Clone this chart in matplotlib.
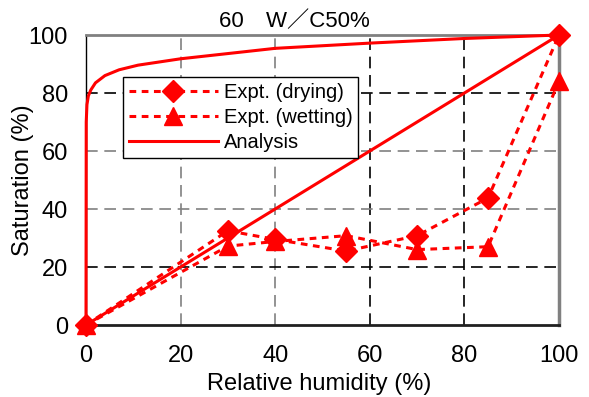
import matplotlib.pyplot as plt
import numpy as np
from matplotlib.lines import Line2D

plt.rcParams['font.family'] = ['Liberation Sans', 'Noto Sans CJK JP', 'DejaVu Sans']

red = "#FF0000"; grey = "#808080"

# experimental data (relative humidity %, saturation %)
rh_dry = [0, 30, 40, 55, 70, 85, 100]
sat_dry = [0, 32.5, 29.5, 25.5, 30.8, 43.8, 100]
rh_wet = [0, 30, 40, 55, 70, 85, 100]
sat_wet = [0, 27.2, 28.8, 30.8, 26.0, 27.0, 84]

# analysis curves
rh_ana1 = [0, 0.05, 0.2, 0.5, 1, 2, 4, 7, 11, 20, 30, 40, 50, 60, 70, 80, 90, 100]
sat_ana1 = [0, 70, 76, 79, 81, 83.5, 86, 88, 89.6, 91.8, 93.6, 95.4, 96.3, 97.2, 98, 98.8, 99.4, 100]
rh_ana2 = [0, 100]
sat_ana2 = [0, 100]

xticks = [0, 20, 40, 60, 80, 100]
yticks = [0, 20, 40, 60, 80, 100]

W, H = 589, 397
fig = plt.figure(figsize=(W/100, H/100), dpi=100)
ax = fig.add_axes([86/W, 1-325/H, 473/W, 290/H])
ax.set_xlim(0, 100)
ax.set_ylim(0, 100)

# grid, alternating grey / black as in the original
xgrid_col = {20: grey, 40: grey, 60: 'k', 80: 'k'}
ygrid_col = {20: 'k', 40: grey, 60: grey, 80: 'k'}
for v, c in xgrid_col.items():
    ax.axvline(v, color=c, lw=1.2, ls=(0, (7, 4)), zorder=1)
for v, c in ygrid_col.items():
    ax.axhline(v, color=c, lw=1.2, ls=(0, (7, 4)), zorder=1)

dot = (0, (2.2, 1.8))
ax.plot(rh_dry, sat_dry, color=red, ls=dot, lw=2.2, marker='D', ms=11,
        mec=red, mfc=red, clip_on=False, zorder=4)
ax.plot(rh_wet, sat_wet, color=red, ls=dot, lw=2.2, marker='^', ms=13,
        mec=red, mfc=red, clip_on=False, zorder=4)
ax.plot(rh_ana1, sat_ana1, color=red, lw=2.2, clip_on=False, zorder=3)
ax.plot(rh_ana2, sat_ana2, color=red, lw=2.2, clip_on=False, zorder=3)

ax.set_xticks(xticks)
ax.set_yticks(yticks)
ax.tick_params(length=0, labelsize=17)
ax.tick_params(axis='x', pad=14.5)
ax.tick_params(axis='y', pad=13)

ax.spines['top'].set_color(grey); ax.spines['top'].set_linewidth(2)
ax.spines['right'].set_color(grey); ax.spines['right'].set_linewidth(2.5)
ax.spines['left'].set_color('k'); ax.spines['left'].set_linewidth(1)
ax.spines['bottom'].set_color('#202020'); ax.spines['bottom'].set_linewidth(2)

ax.set_xlabel('Relative humidity (%)', fontsize=17, va='center')
ax.xaxis.set_label_coords((319-86)/473, (325-384)/290)
ax.set_ylabel('Saturation (%)', fontsize=17, va='center')
ax.yaxis.set_label_coords((23-86)/473, 0.5)
fig.text(294/W, 1-22/H, '60　W／C50%', fontsize=16, ha='center', va='center')

legend_elements = [
    Line2D([0], [0], color=red, ls=dot, lw=2.2, marker='D', ms=11, label='Expt. (drying)'),
    Line2D([0], [0], color=red, ls=dot, lw=2.2, marker='^', ms=13, label='Expt. (wetting)'),
    Line2D([0], [0], color=red, lw=2.2, label='Analysis'),
]
leg = ax.legend(handles=legend_elements, loc='upper left',
                bbox_to_anchor=(123/W, 1-77/H), bbox_transform=fig.transFigure,
                fontsize=14.5, handlelength=4.4, fancybox=False, framealpha=1,
                edgecolor='k', borderpad=0.3, labelspacing=0.3, handletextpad=0.3,
                borderaxespad=0)
leg.get_frame().set_linewidth(1)
leg.set_zorder(5)

fig.savefig('out.png', dpi=100)
